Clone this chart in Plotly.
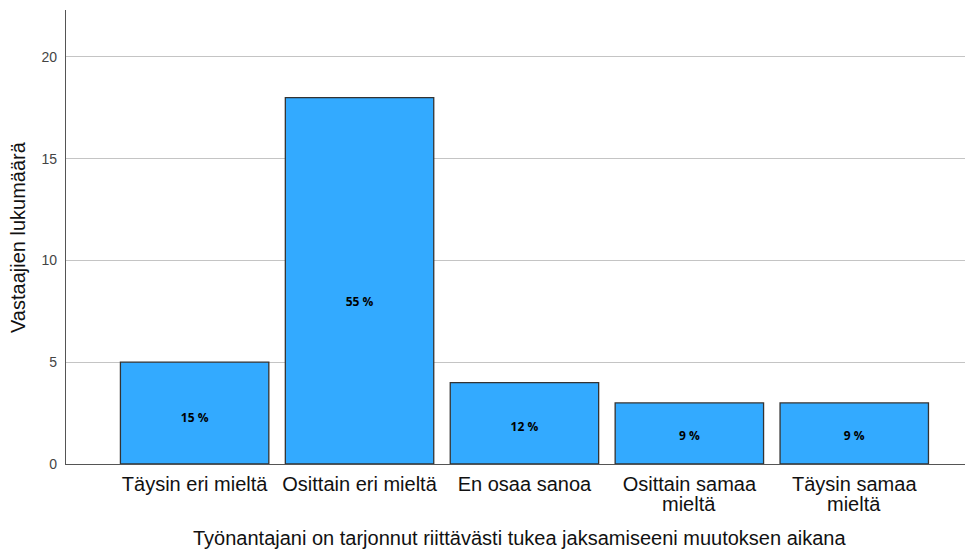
import plotly.graph_objects as go

categories = ["Täysin eri mieltä", "Osittain eri mieltä", "En osaa sanoa",
              "Osittain samaa\nmieltä", "Täysin samaa\nmieltä"]
counts = [5, 18, 4, 3, 3]
percent_labels = ["15 %", "55 %", "12 %", "9 %", "9 %"]
y_ticks = [0, 5, 10, 15, 20]

x_title = "Työnantajani on tarjonnut riittävästi tukea jaksamiseeni muutoksen aikana"
y_title = "Vastaajien lukumäärä"

xs = list(range(len(categories)))
first_lines = [c.split("\n")[0] for c in categories]
second_lines = [c.split("\n")[1] if "\n" in c else "" for c in categories]

fig = go.Figure()
fig.add_trace(go.Bar(
    x=xs,
    y=counts,
    marker=dict(color="#33aaff", line=dict(color="#333333", width=1.3)),
    width=0.9,
    hoverinfo="skip",
))
# percentage labels placed inside bars (slightly below middle, as in reference)
fig.add_trace(go.Scatter(
    x=xs,
    y=[c * 0.44 for c in counts],
    mode="text",
    text=percent_labels,
    textposition="middle center",
    textfont=dict(family="Open Sans", size=12, color="#000000", weight="bold"),
    hoverinfo="skip",
))

# page body has an 8px default margin; figure is sized/offset to compensate
fig.update_layout(
    width=965, height=544,
    margin=dict(l=58, r=0, t=2, b=88),
    plot_bgcolor="white", paper_bgcolor="white",
    showlegend=False,
    font=dict(family="Liberation Sans, Arial, sans-serif"),
)
fig.update_xaxes(
    range=[-0.78, 4.72],
    tickmode="array",
    tickvals=xs,
    ticktext=first_lines,
    tickfont=dict(size=20, color="#111111"),
    showline=True, linecolor="#555555", linewidth=1.3,
    ticks="", ticklabelstandoff=2,
    showgrid=False, zeroline=False,
)
fig.update_yaxes(
    range=[0, 22.3],
    tickmode="array",
    tickvals=y_ticks,
    tickfont=dict(size=14, color="#444444"),
    showline=True, linecolor="#555555", linewidth=1.3,
    ticks="", ticklabelstandoff=5,
    showgrid=True, gridcolor="#c4c4c4", gridwidth=1.2,
    zeroline=False,
)
for x, s in zip(xs, second_lines):
    if s:
        fig.add_annotation(
            text=s, x=x, xref="x", yref="paper", y=0, yshift=-40,
            showarrow=False, xanchor="center", yanchor="middle",
            font=dict(size=20, color="#111111"),
        )
fig.add_annotation(
    text=y_title, xref="paper", yref="paper", x=0, y=0.5,
    xshift=-48, textangle=-90, showarrow=False,
    font=dict(size=20, color="#111111"), xanchor="center", yanchor="middle",
)
fig.add_annotation(
    text=x_title, xref="paper", yref="paper", x=0.5, y=0,
    yshift=-74, showarrow=False,
    font=dict(size=20, color="#111111"), xanchor="center", yanchor="middle",
)

fig.write_html("out.html")
